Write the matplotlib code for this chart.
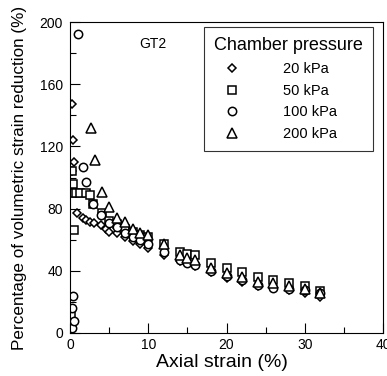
import matplotlib
matplotlib.use("Agg")
import matplotlib.pyplot as plt
from matplotlib.ticker import MultipleLocator

plt.rcParams['font.family'] = ['Liberation Sans', 'DejaVu Sans']

# 20 kPa (diamonds)
x20 = [0.2, 0.35, 0.5, 0.3, 0.9, 1.6, 2.0, 2.6, 3.05, 3.9, 4.6, 5.0, 6.0, 7.0, 8.0, 9.0, 10.0, 12.0,
       14.0, 15.0, 16.0, 18.0, 20.0, 22.0, 24.0, 26.0, 28.0, 30.0, 32.0]
y20 = [147, 124, 110, 104, 77, 74, 72.5, 71.5, 71, 69.5, 67, 65, 64, 61.5, 59, 57, 54.5, 50,
       46, 45, 43, 39, 35.5, 33, 30.5, 29, 27.5, 25.5, 23]

# 50 kPa (squares)
x50 = [0.1, 0.5, 0.3, 0.35, 0.3, 0.8, 1.3, 2.0, 2.6, 3.0, 4.1, 5.0, 6.0, 7.0, 8.0, 9.0, 10.0, 12.0,
       14.0, 15.0, 16.0, 18.0, 20.0, 22.0, 24.0, 26.0, 28.0, 30.0, 32.0]
y50 = [11, 66, 104, 96, 90, 90, 90, 90, 89, 83, 77, 72, 70, 67, 65, 63, 62, 57,
       52, 51, 50, 45, 42, 39, 36, 34, 32, 30, 27]

# 100 kPa (circles)
x100 = [0.2, 0.5, 0.3, 0.4, 1.0, 1.6, 2.05, 3.0, 4.0, 5.0, 6.0, 7.0, 8.0, 9.0, 10.0, 12.0,
        14.0, 15.0, 16.0, 18.0, 20.0, 22.0, 24.0, 26.0, 28.0, 30.0, 32.0]
y100 = [3, 8, 16, 24, 192, 107, 97, 83, 76, 71, 68, 64, 62, 60, 57.5, 52,
        47, 45, 43.5, 40, 36.5, 34, 31, 29, 28.5, 27.5, 25.5]

# 200 kPa (triangles)
x200 = [2.7, 3.2, 4.05, 5.0, 6.0, 7.0, 8.0, 9.0, 10.0, 12.0,
        14.0, 15.0, 16.0, 18.0, 20.0, 22.0, 24.0, 26.0, 28.0, 30.0, 32.0]
y200 = [132, 111, 90.5, 81, 74, 71.5, 67, 64.5, 63, 57,
        50, 48.5, 47, 42, 38.5, 36, 33, 32, 30, 28.5, 26]

labels = ['20 kPa', '50 kPa', '100 kPa', '200 kPa']

fig = plt.figure(figsize=(3.87, 3.76), dpi=100)
ax = fig.add_axes([70/387, 1-333/376, (383-70)/387, (333-22)/376])

common = dict(linestyle='none', markerfacecolor='white', markeredgecolor='black', markeredgewidth=1.1)
ax.plot(x20, y20, marker='D', markersize=4.3, label=labels[0], **common)
ax.plot(x50, y50, marker='s', markersize=6.0, label=labels[1], **common)
ax.plot(x100, y100, marker='o', markersize=6.0, label=labels[2], **common)
ax.plot(x200, y200, marker='^', markersize=7.0, label=labels[3], **common)

ax.set_xlim(0, 40)
ax.set_ylim(0, 200)
ax.xaxis.set_major_locator(MultipleLocator(10))
ax.xaxis.set_minor_locator(MultipleLocator(5))
ax.yaxis.set_major_locator(MultipleLocator(40))
ax.yaxis.set_minor_locator(MultipleLocator(20))
ax.tick_params(which='both', direction='in', top=False, right=False, labelsize=10, width=0.8)
ax.tick_params(which='major', length=7)
ax.tick_params(axis='y', which='major', pad=5)
ax.tick_params(which='minor', length=4.5)
for s in ax.spines.values():
    s.set_linewidth(0.8)

ax.set_xlabel('Axial strain (%)', fontsize=14)
ax.xaxis.set_label_coords(0.484, -0.066)
ax.set_ylabel('Percentage of volumetric strain reduction (%)', fontsize=12.3, labelpad=9)
ax.text(8.8, 183, 'GT2', fontsize=10)

leg = ax.legend(title='Chamber pressure', loc='upper right', bbox_to_anchor=(0.968, 0.984),
                borderaxespad=0, fontsize=10.5, title_fontsize=13, frameon=True, fancybox=False,
                alignment='left', handlelength=2.5, handletextpad=2.24, borderpad=0.7,
                labelspacing=0.53)
leg.get_frame().set_edgecolor('black')
leg.get_frame().set_linewidth(0.8)

fig.savefig('out.png', dpi=100)
